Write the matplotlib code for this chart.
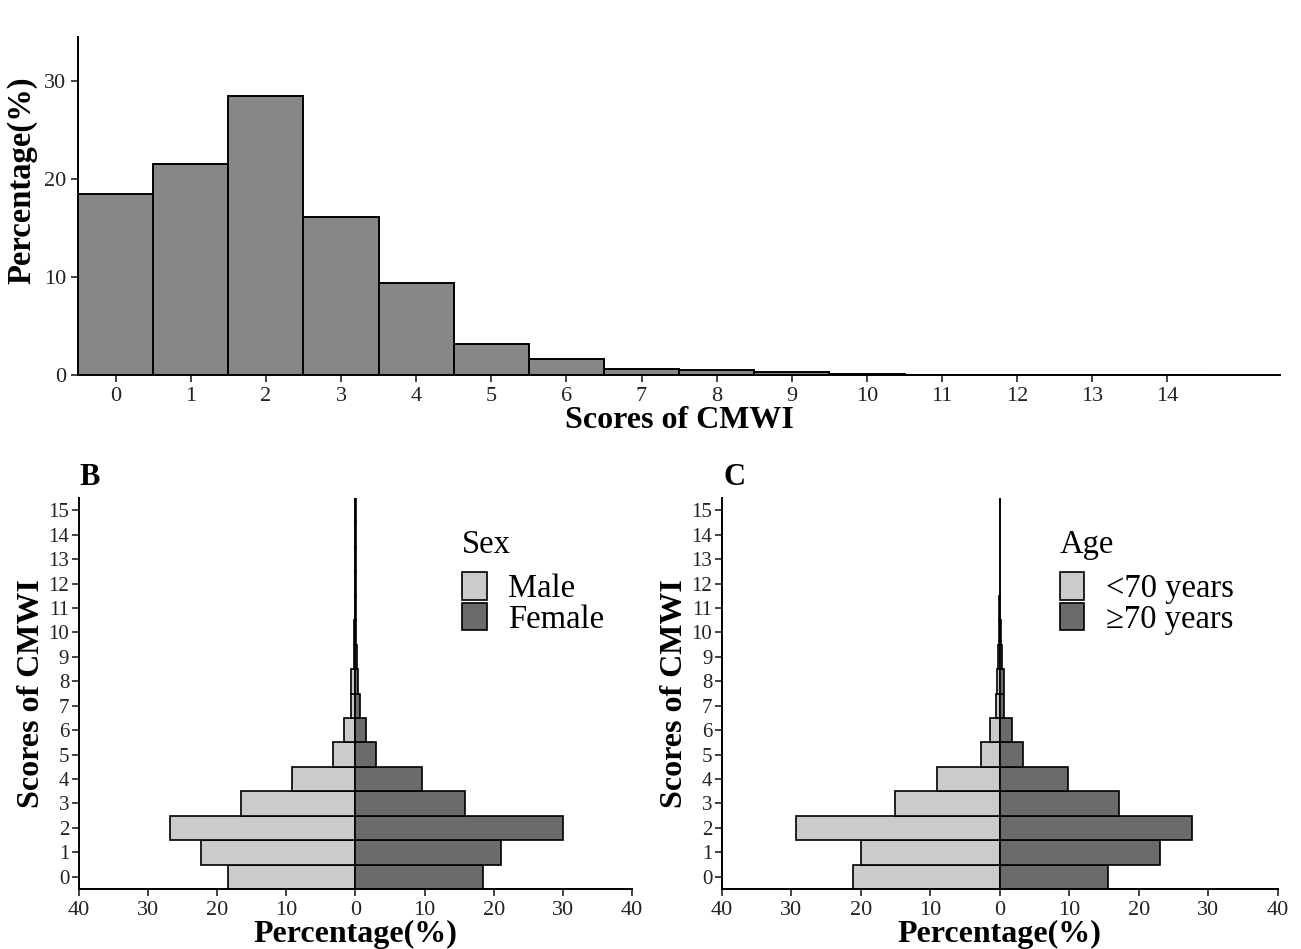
import numpy as np
import matplotlib.pyplot as plt

plt.rcParams['font.family'] = ['Liberation Serif', 'DejaVu Serif']

# Panel A: overall score distribution
scores = np.arange(0, 15)
overall_pct = [18.5, 21.5, 28.5, 16.1, 9.4, 3.1, 1.6, 0.6, 0.5, 0.25, 0.12, 0.02, 0.01, 0.01, 0.01]

# Panels B and C: pyramids, scores 0..15
pyr_scores = np.arange(0, 16)
male_pct = [18.4, 22.3, 26.8, 16.5, 9.2, 3.2, 1.6, 0.6, 0.65, 0.25, 0.15, 0.06, 0.04, 0.03, 0.03, 0.02]
female_pct = [18.4, 21.1, 30.0, 15.9, 9.6, 3.0, 1.5, 0.7, 0.4, 0.2, 0.1, 0.05, 0.03, 0.03, 0.02, 0.02]
young_pct = [21.2, 20.0, 29.4, 15.1, 9.0, 2.7, 1.4, 0.55, 0.35, 0.2, 0.1, 0.05, 0.03, 0.03, 0.02, 0.02]
old_pct = [15.6, 23.0, 27.7, 17.1, 9.8, 3.4, 1.7, 0.65, 0.55, 0.25, 0.15, 0.08, 0.04, 0.03, 0.03, 0.02]

light = '#cbcbcb'
dark = '#6b6b6b'
label_fs = 23
tick_fs = 16
leg_fs = 23.5


def style_axes(ax):
    for s in ['top', 'right']:
        ax.spines[s].set_visible(False)
    for s in ['left', 'bottom']:
        ax.spines[s].set_linewidth(1.4)
    ax.tick_params(direction='out', length=5, width=1.2, labelsize=tick_fs, colors='#222222')


def pyramid(ax, left_vals, right_vals, names, title, leg_x):
    ax.barh(pyr_scores, -np.array(left_vals), height=1.0, color=light,
            edgecolor='black', linewidth=1.2, label=names[0])
    ax.barh(pyr_scores, right_vals, height=1.0, color=dark,
            edgecolor='black', linewidth=1.2, label=names[1])
    ax.set_xlim(-40, 40)
    ax.set_ylim(-0.5, 15.5)
    ax.set_xticks(np.arange(-40, 41, 10))
    ax.set_xticklabels([str(abs(v)) for v in range(-40, 41, 10)])
    ax.set_yticks(pyr_scores)
    style_axes(ax)
    ax.tick_params(axis='y', labelsize=15, pad=2)
    ax.set_xlabel('Percentage(%)', fontsize=label_fs, fontweight='bold', labelpad=0)
    ax.set_ylabel('Scores of CMWI', fontsize=label_fs, fontweight='bold', labelpad=2)
    ax.text(leg_x, 0.92, title, transform=ax.transAxes, fontsize=leg_fs,
            ha='left', va='top')
    ax.legend(loc='upper left', bbox_to_anchor=(leg_x, 0.81),
              frameon=False, fontsize=leg_fs,
              handlelength=0.75, handleheight=0.92, labelspacing=-0.05,
              handletextpad=0.65, borderaxespad=0, borderpad=0)


fig = plt.figure(figsize=(13.01, 9.49), dpi=100)

axA = fig.add_axes([0.060, 0.605, 0.924, 0.356])
axA.bar(scores, overall_pct, width=1.0, color='#878787', edgecolor='black', linewidth=1.4)
axA.set_xlim(-0.5, 15.5)
axA.set_ylim(0, 34.5)
axA.set_xticks(scores)
axA.set_yticks([0, 10, 20, 30])
style_axes(axA)
axA.set_xlabel('Scores of CMWI', fontsize=label_fs, fontweight='bold', labelpad=0)
axA.set_ylabel('Percentage(%)', fontsize=23.5, fontweight='bold')
axA.yaxis.set_label_coords(-0.034, 0.575)

axB = fig.add_axes([0.0607, 0.0632, 0.425, 0.412])
pyramid(axB, male_pct, female_pct, ['Male', 'Female'], 'Sex', 0.693)

axC = fig.add_axes([0.555, 0.0632, 0.427, 0.412])
pyramid(axC, young_pct, old_pct, ['<70 years', '\u226570 years'], 'Age', 0.608)

fig.text(0.061, 0.497, 'B', fontsize=22, fontweight='bold', va='center')
fig.text(0.556, 0.497, 'C', fontsize=22, fontweight='bold', va='center')

fig.savefig('out.png', dpi=100)
